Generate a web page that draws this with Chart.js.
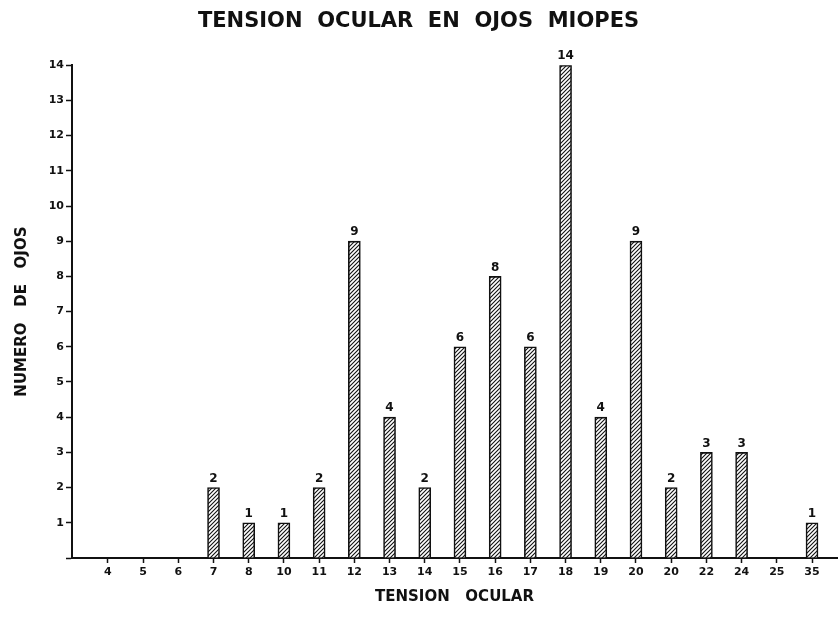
<!DOCTYPE html>
<html lang="es">
<head>
  <meta charset="UTF-8">
  <title>Tension ocular en ojos miopes</title>
  <script src="https://cdn.jsdelivr.net/npm/chart.js"></script>
  <style>
    html, body { margin: 0; padding: 0; background: #fff; }
    #wrap { width: 838px; height: 633px; }
  </style>
</head>
<body>
  <div id="wrap"><canvas id="chartTension"></canvas></div>
  <script>
    // valores
    const categories = ['4','5','6','7','8','10','11','12','13','14','15','16','17','18','19','20','20','22','24','25','35'];
    const ojos = [0,0,0,2,1,1,2,9,4,2,6,8,6,14,4,9,2,3,3,0,1];
    const yMax = 14;

    const fontName = "'DejaVu Sans', sans-serif";

    // rayado diagonal de las barras
    function makeHatch() {
      const c = document.createElement('canvas');
      c.width = 4; c.height = 4;
      const g = c.getContext('2d');
      g.fillStyle = '#fff';
      g.fillRect(0, 0, 4, 4);
      g.strokeStyle = '#111';
      g.lineWidth = 1.1;
      g.beginPath();
      g.moveTo(0, 4); g.lineTo(4, 0);
      g.moveTo(-1, 1); g.lineTo(1, -1);
      g.moveTo(3, 5); g.lineTo(5, 3);
      g.stroke();
      return g.createPattern(c, 'repeat');
    }

    // numero encima de cada barra
    const valueLabels = {
      id: 'valueLabels',
      afterDatasetsDraw(chart) {
        const ctx = chart.ctx;
        const meta = chart.getDatasetMeta(0);
        ctx.save();
        ctx.font = 'bold 12px ' + fontName;
        ctx.fillStyle = '#111';
        ctx.textAlign = 'center';
        ctx.textBaseline = 'middle';
        meta.data.forEach((bar, i) => {
          if (!ojos[i]) return;
          ctx.fillText(String(ojos[i]), bar.x, bar.y - 9);
        });
        ctx.restore();
      }
    };

    const ctx = document.getElementById('chartTension').getContext('2d');
    new Chart(ctx, {
      type: 'bar',
      data: {
        datasets: [{
          data: categories.map((c, i) => ({ x: i, y: ojos[i] || null })),
          backgroundColor: makeHatch(),
          borderColor: '#111',
          borderWidth: 1.6,
          borderSkipped: 'bottom',
          barThickness: 12
        }]
      },
      options: {
        responsive: true,
        maintainAspectRatio: false,
        animation: false,
        layout: { padding: { left: 0, right: 1, top: 0, bottom: 0 } },
        plugins: {
          legend: { display: false },
          tooltip: { enabled: false },
          title: {
            display: true,
            text: 'TENSION  OCULAR  EN  OJOS  MIOPES',
            color: '#111',
            font: { family: fontName, size: 21, weight: 'bold' },
            padding: { top: 9, bottom: 31 }
          }
        },
        scales: {
          x: {
            type: 'linear',
            offset: false,
            min: -1.02,
            max: 20.71,
            afterBuildTicks: s => { s.ticks = categories.map((c, i) => ({ value: i })); },
            afterFit: s => { s.height = 75; },
            grid: { offset: false, drawOnChartArea: false, tickLength: 5, tickColor: '#111', tickWidth: 1.5 },
            border: { color: '#111', width: 2 },
            ticks: {
              color: '#111',
              padding: 3,
              maxRotation: 0,
              autoSkip: false,
              font: { family: fontName, size: 11, weight: 'bold' },
              callback: v => categories[v] ?? ''
            },
            title: {
              display: true,
              text: 'TENSION   OCULAR',
              color: '#111',
              font: { family: fontName, size: 15, weight: 'bold' },
              padding: { top: 4, bottom: 27 }
            }
          },
          y: {
            min: 0,
            max: yMax,
            afterFit: s => { s.width = 72; },
            grid: { drawOnChartArea: false, tickLength: 6, tickColor: '#111', tickWidth: 1.5 },
            border: { color: '#111', width: 2 },
            ticks: {
              stepSize: 1,
              color: '#111',
              padding: 2,
              font: { family: fontName, size: 11, weight: 'bold' },
              callback: v => v === 0 ? '' : v
            },
            title: {
              display: true,
              text: 'NUMERO   DE   OJOS',
              color: '#111',
              font: { family: fontName, size: 15, weight: 'bold' },
              padding: { top: 13, bottom: 0 }
            }
          }
        }
      },
      plugins: [valueLabels]
    });
  </script>
</body>
</html>
